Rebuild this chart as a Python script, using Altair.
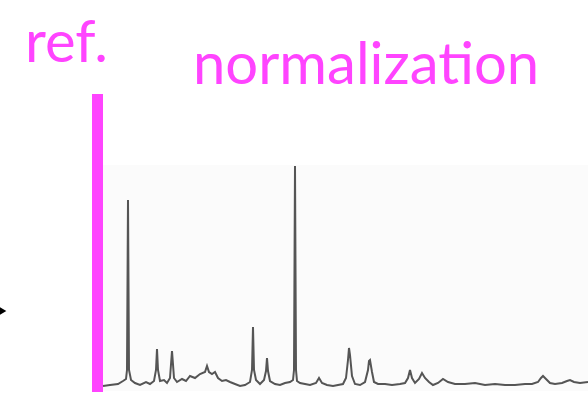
import altair as alt
import pandas as pd

# Spectrum trace: position along the axis and height above baseline
positions = [0, 7, 15, 20, 23, 24, 25, 26, 28, 32, 37, 43, 47, 51, 53, 54, 55, 57, 61, 64,
             67, 69, 71, 74, 79, 83, 87, 92, 97, 102, 104, 106, 109, 112, 115, 119, 123, 127,
             132, 137, 142, 147, 149, 150, 151, 153, 157, 161, 163, 164, 165, 167, 172, 177,
             182, 187, 190, 191, 192, 193, 194, 197, 202, 207, 213, 216, 219, 224, 230, 235,
             240, 243, 245, 246, 247, 249, 252, 257, 262, 265, 266, 267, 269, 271, 275, 282,
             289, 297, 302, 305, 307, 309, 312, 316, 319, 322, 326, 330, 335, 340, 345, 352,
             362, 372, 382, 392, 402, 412, 422, 429, 435, 438, 440, 443, 447, 452, 459, 464,
             467, 471, 477, 485]
heights = [-3, -2, -1, 2, 4, 13, 183, 13, 3, 0, -2, 1, -1, 2, 13, 34, 13, 2, 3, 0,
           5, 32, 5, 1, 4, 2, 7, 5, 9, 11, 17, 11, 9, 11, 5, 2, 3, 1,
           -1, -3, -2, 1, 13, 56, 13, 3, -1, 3, 12, 25, 12, 2, -1, -2,
           0, 1, 3, 13, 217, 13, 2, 0, -1, -2, 0, 5, 0, -2, -3, -2,
           -1, 5, 23, 35, 28, 7, -1, -2, 1, 13, 22, 23, 11, 1, -1, -1,
           -2, -1, 0, 5, 13, 5, 0, 4, 10, 5, 1, -2, 0, 4, 1, -1,
           -1, 0, -2, -1, -2, -2, -1, -1, 1, 5, 7, 4, 0, -1, 0, 2,
           3, 1, 0, 1]

title_left = "ref."
title_right = "normalization"
magenta = "#FF44FF"

spec = pd.DataFrame({"pos": positions, "h": heights})

background = alt.Chart(pd.DataFrame({"a": [0]})).mark_rect(color="#fbfbfb").encode(
    x=alt.value(103), x2=alt.value(588), y=alt.value(165), y2=alt.value(391)
)

bar = alt.Chart(pd.DataFrame({"a": [0]})).mark_rect(color=magenta).encode(
    x=alt.value(92), x2=alt.value(103), y=alt.value(94), y2=alt.value(392)
)

line = alt.Chart(spec).mark_line(color="#555555", strokeWidth=2, interpolate="linear").encode(
    x=alt.X("pos:Q", scale=alt.Scale(domain=[0, 485], range=[103, 588]), axis=None),
    y=alt.Y("h:Q", scale=alt.Scale(domain=[0, 217], range=[383, 166]), axis=None),
)

t1 = alt.Chart(pd.DataFrame({"t": [title_left]})).mark_text(
    font="Lato", fontSize=58, color=magenta, align="left", baseline="alphabetic"
).encode(x=alt.value(25), y=alt.value(62), text="t:N")

t2 = alt.Chart(pd.DataFrame({"t": [title_right]})).mark_text(
    font="Lato", fontSize=58, color=magenta, align="left", baseline="alphabetic"
).encode(x=alt.value(193), y=alt.value(84), text="t:N")

arrow = alt.Chart(pd.DataFrame({"a": [0]})).mark_point(
    shape="triangle-right", filled=True, color="black", size=60, opacity=1
).encode(x=alt.value(3), y=alt.value(311))

chart = alt.layer(background, bar, line, t1, t2, arrow).resolve_scale(
    x="independent", y="independent"
).properties(
    width=588, height=394, padding=0, autosize=alt.AutoSizeParams(type="none")
).configure_view(stroke=None)

chart.save("out.html", embed_options={"renderer": "svg", "actions": False})
